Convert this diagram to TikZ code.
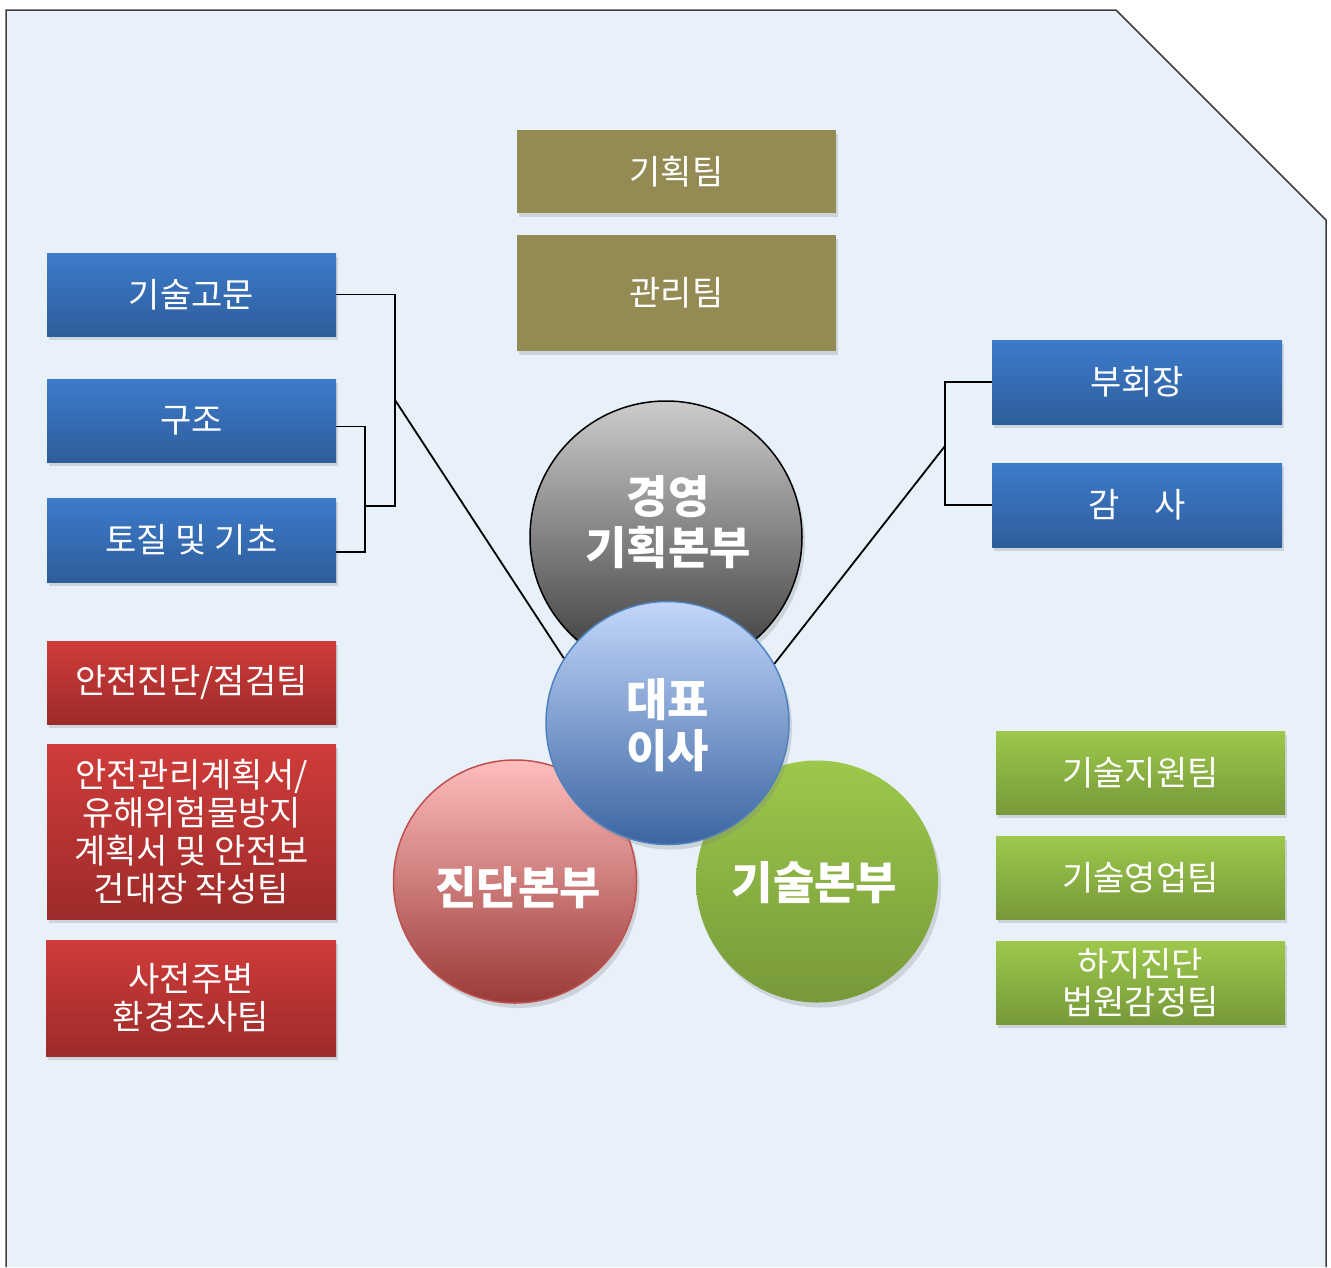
\documentclass[tikz,border=0pt]{standalone}
\usepackage{fontspec}
\setmainfont{Noto Sans CJK KR}
\usetikzlibrary{shadows}
\definecolor{pagebg}{HTML}{E8F0FA}
\definecolor{olive}{HTML}{948A54}
\definecolor{blueT}{HTML}{3C7BCB}
\definecolor{blueB}{HTML}{2F5D9B}
\definecolor{redT}{HTML}{D03C3A}
\definecolor{redB}{HTML}{9C2B29}
\definecolor{greenT}{HTML}{9DC84B}
\definecolor{greenB}{HTML}{77993A}
\definecolor{ceoT}{HTML}{C3D7FB}
\definecolor{ceoB}{HTML}{3B65A1}
\definecolor{ceoline}{HTML}{4F81BD}
\definecolor{diagT}{HTML}{FFBDBD}
\definecolor{diagB}{HTML}{9A3B39}
\definecolor{diagline}{HTML}{C0504D}
\begin{document}
\begin{tikzpicture}[x=1pt,y=-1pt,
    box/.style={rectangle,minimum width=289pt,minimum height=83pt,inner sep=0pt,
        text=white,align=center,font=\fontsize{34}{38}\selectfont,
        drop shadow={shadow xshift=2pt,shadow yshift=-4pt,opacity=0.25}},
    bluebox/.style={box,top color=blueT,bottom color=blueB},
    redbox/.style={box,top color=redT,bottom color=redB},
    greenbox/.style={box,top color=greenT,bottom color=greenB},
    olivebox/.style={box,fill=olive,minimum width=319pt},
    ball/.style={circle,inner sep=0pt,line width=1.5pt,
        drop shadow={shadow xshift=3pt,shadow yshift=-5pt,opacity=0.25}},
    balltext/.style={text=white,align=center,font=\fontsize{45}{51}\selectfont\bfseries},
    link/.style={line width=1.8pt}]
    \useasboundingbox (0,0) rectangle (1331,1267);
    \fill[white] (0,0) rectangle (1331,1267);
    \draw[fill=pagebg,draw=black!75,line width=1.5pt] (6,1267) -- (6,10) -- (1116,10) -- (1326,220) -- (1326,1267);

    % top teams
    \node[olivebox] (plan) at (676.5,171.5) {기획팀};
    \node[olivebox,minimum height=116pt] (admin) at (676.5,293) {관리팀};

    % left blue
    \node[bluebox] (adv) at (191.5,294.5) {기술고문};
    \node[bluebox] (struct) at (191.5,420.5) {구조};
    \node[bluebox,minimum height=84pt] (soil) at (191.5,540) {토질 및 기초};

    % left red
    \node[redbox] (safety) at (191.5,682.5) {안전진단/점검팀};
    \node[redbox,minimum height=175pt] (ledger) at (191.5,831.5) {안전관리계획서/\\유해위험물방지\\계획서 및 안전보\\건대장 작성팀};
    \node[redbox,minimum width=290pt,minimum height=116pt] (env) at (191,998) {사전주변\\환경조사팀};

    % right blue
    \node[bluebox,minimum width=290pt,minimum height=84pt] (vice) at (1137,382) {부회장};
    \node[bluebox,minimum width=290pt,minimum height=84pt] (audit) at (1137,505) {감\hspace{1em}사};

    % right green
    \node[greenbox] (tsup) at (1140.5,772.5) {기술지원팀};
    \node[greenbox] (tsales) at (1140.5,877.5) {기술영업팀};
    \node[greenbox] (court) at (1140.5,982.5) {하지진단\\법원감정팀};

    % circles
    \node[ball,minimum size=272pt,draw=black,top color=black!20,bottom color=black!78,
        label={[balltext,xshift=2pt,yshift=15pt]center:경영\\기획본부}] (mgmt) at (666,537) {};
    \node[ball,minimum size=243pt,draw=diagline,top color=diagT,bottom color=diagB,
        label={[balltext,xshift=3pt,yshift=-6pt]center:진단본부}] (diag) at (515,881.5) {};
    \node[ball,minimum size=242pt,top color=greenT,bottom color=greenB,
        label={[balltext,xshift=-2.5pt,yshift=-1pt]center:기술본부}] (tech) at (817,881.5) {};
    \node[ball,minimum size=243pt,draw=ceoline,top color=ceoT,bottom color=ceoB,
        label={[balltext,yshift=-2pt]center:대표\\이사}] (ceo) at (667.5,723) {};

    % brackets
    \coordinate (lb) at (395,506);
    \coordinate (li) at (365,506);
    \coordinate (lj) at (395,400);
    \coordinate (rj) at (945,446);
    \draw[link] (adv.east) -| (lb) -- (li);
    \draw[link] ([yshift=-6pt]struct.east) -| (li) |- ([yshift=-12pt]soil.east);
    \draw[link] (lj) -- (ceo.148);
    \draw[link] (vice.west) -- ++(-47,0) |- (audit.west);
    \draw[link] (rj) -- (ceo.29);
\end{tikzpicture}
\end{document}
